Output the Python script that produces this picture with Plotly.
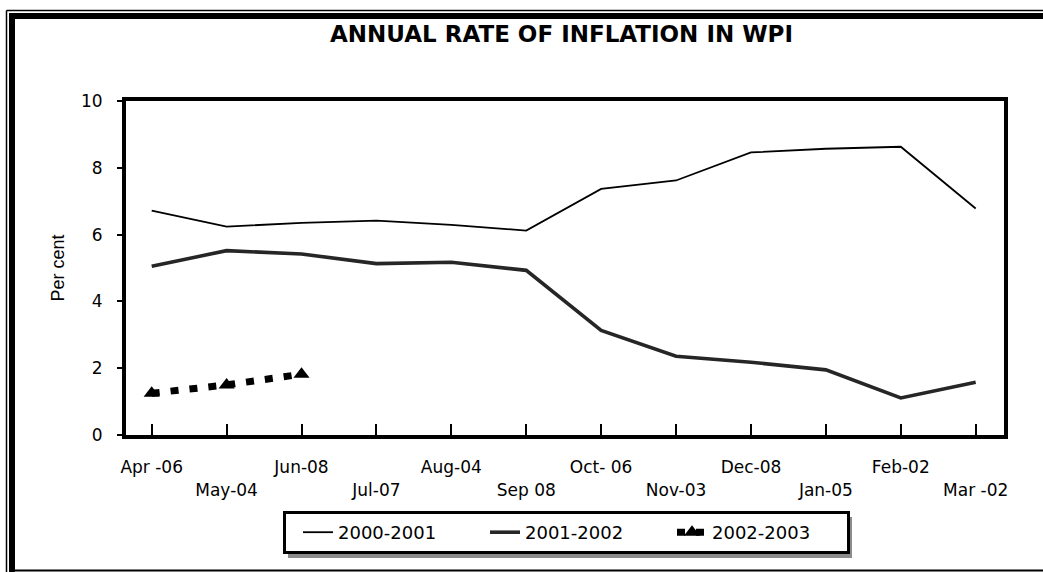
import plotly.graph_objects as go

W, H = 1043, 572

months = ["Apr -06", "May-04", "Jun-08", "Jul-07", "Aug-04", "Sep 08",
          "Oct- 06", "Nov-03", "Dec-08", "Jan-05", "Feb-02", "Mar -02"]
s2000 = [6.72, 6.24, 6.35, 6.42, 6.29, 6.12, 7.37, 7.62, 8.46, 8.57, 8.63, 6.78]
s2001 = [5.05, 5.52, 5.42, 5.13, 5.17, 4.93, 3.13, 2.36, 2.18, 1.95, 1.11, 1.58]
s2002 = [1.25, 1.50, 1.82]
names = ["2000-2001", "2001-2002", "2002-2003"]
yticks = [0, 2, 4, 6, 8, 10]
title_text = "ANNUAL RATE OF INFLATION IN WPI"

idx = list(range(len(months)))
ticktext = [m if i % 2 == 0 else "<br>" + m for i, m in enumerate(months)]

def px(x):
    return min(max(x / W, 0), 1)

def py(y):
    return min(max(1 - y / H, 0), 1)

fig = go.Figure()
fig.add_trace(go.Scatter(x=idx, y=s2000, mode="lines", name=names[0],
                         line=dict(color="#000000", width=1.8)))
fig.add_trace(go.Scatter(x=idx, y=s2001, mode="lines", name=names[1],
                         line=dict(color="#262626", width=3.6)))
fig.add_trace(go.Scatter(x=idx[:len(s2002)], y=s2002, mode="lines+markers", name=names[2],
                         line=dict(color="#000000", width=7, dash="8px,11px"),
                         marker=dict(symbol="triangle-up", size=14, color="#000000")))

shapes = []
# legend shadow
shapes.append(dict(type="rect", xref="paper", yref="paper",
                   x0=px(288), x1=px(852), y0=py(558), y1=py(517),
                   fillcolor="#8c8c8c", line=dict(width=0), layer="above"))
# outer frame thin
shapes.append(dict(type="line", xref="paper", yref="paper",
                   x0=px(6.5), x1=px(6.5), y0=py(10.5), y1=py(H), line=dict(color="black", width=1.5)))
shapes.append(dict(type="line", xref="paper", yref="paper",
                   x0=px(6.5), x1=px(W), y0=py(10.5), y1=py(10.5), line=dict(color="black", width=1.5)))
# inner thick frame
shapes.append(dict(type="line", xref="paper", yref="paper",
                   x0=px(12), x1=px(12), y0=py(13), y1=py(H), line=dict(color="black", width=6)))
shapes.append(dict(type="line", xref="paper", yref="paper",
                   x0=px(9), x1=px(W), y0=py(16), y1=py(16), line=dict(color="black", width=6)))
shapes.append(dict(type="line", xref="paper", yref="paper",
                   x0=px(12), x1=px(W), y0=py(570.5), y1=py(570.5), line=dict(color="black", width=2)))

fig.update_layout(
    template="none",
    width=W, height=H,
    margin=dict(l=0, r=0, t=0, b=0, pad=0, autoexpand=False),
    paper_bgcolor="white", plot_bgcolor="white",
    annotations=[dict(text="<b>" + title_text + "</b>", xref="paper", yref="paper",
                      x=px(561), y=py(34), xanchor="center", yanchor="middle",
                      showarrow=False,
                      font=dict(family="DejaVu Sans", size=23, color="black"))],
    xaxis=dict(domain=[px(126), px(1004)], range=[-0.343, 11.378], automargin=False,
               tickmode="array", tickvals=idx, ticktext=ticktext,
               ticks="inside", ticklen=11, tickwidth=2, tickcolor="black",
               showline=True, linewidth=4, linecolor="black", mirror=True,
               showgrid=False, zeroline=False, ticklabelstandoff=14,
               tickfont=dict(family="DejaVu Sans", size=17, color="black")),
    yaxis=dict(domain=[py(435), py(101)], range=[0, 10], automargin=False,
               tickmode="array", tickvals=yticks,
               ticks="outside", ticklen=5, tickwidth=2, tickcolor="black",
               showline=True, linewidth=4, linecolor="black", mirror=True,
               showgrid=False, zeroline=False, ticklabelstandoff=11,
               tickfont=dict(family="DejaVu Sans", size=17, color="black"),
               title=dict(text="Per cent", standoff=13,
                          font=dict(family="Liberation Sans", size=18, color="black"))),
    legend=dict(orientation="h", x=px(283), y=py(511), xanchor="left", yanchor="top",
                bgcolor="white", bordercolor="black", borderwidth=3,
                entrywidth=130, entrywidthmode="pixels", indentation=12,
                font=dict(family="DejaVu Sans", size=18, color="black")),
    shapes=shapes,
    showlegend=True,
)

fig.write_html("out.html", config={"displayModeBar": False},
               post_script="document.body.style.margin='0';document.body.style.overflow='hidden';"
                           "document.documentElement.style.overflow='hidden';")
